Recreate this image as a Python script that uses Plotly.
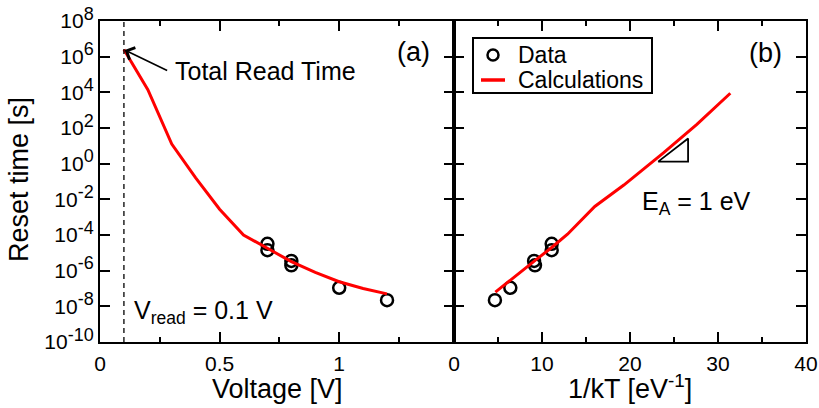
import numpy as np
import plotly.graph_objects as go

# ---------------- data ----------------
# panel (a): reset time vs voltage
volt_calc = [0.1, 0.2, 0.3, 0.4, 0.5, 0.6, 0.7, 0.8, 0.9, 1.0, 1.1, 1.2]
t_calc_a = [2.5e6, 1.4e4, 12.6, 0.16, 2.8e-3, 1.0e-4, 1.8e-5, 3.2e-6, 7.9e-7, 2.4e-7, 1.0e-7, 5.0e-8]
volt_data = [0.7, 0.7, 0.8, 0.8, 1.0, 1.2]
t_data = [3.2e-5, 1.4e-5, 3.5e-6, 2.0e-6, 1.1e-7, 2.2e-8]

# panel (b): reset time vs 1/kT
invkt_data = [11.1, 11.1, 9.1, 9.2, 6.4, 4.65]
invkt_calc = [4.7, 6.4, 9.3, 11.1, 12.9, 16.0, 19.3, 23.8, 27.6, 31.4]
t_calc_b = [6.3e-8, 2.8e-7, 4.0e-6, 2.0e-5, 1.1e-4, 4.0e-3, 6.3e-2, 4.0, 160, 8.9e3]

# slope triangle (E_A = 1 eV) and read-voltage marker
tri_x = [23.2, 26.6, 26.6, 23.2]
tri_y = [1.3, 1.3, 26, 1.3]
V_read = 0.1

y_exps = [-10, -8, -6, -4, -2, 0, 2, 4, 6, 8]
xa_ticks = [0, 0.5, 1]
xa_minor = [0.25, 0.75, 1.25]
xb_ticks = [0, 10, 20, 30, 40]
xb_minor = [5, 15, 25, 35]
legend_names = ["Data", "Calculations"]

# ---------------- layout geometry ----------------
W, H = 819, 408
xa_l, xa_r, xb_r = 100, 454, 806
y_top, y_bot = 21, 342
FONT = "Liberation Sans, Arial, sans-serif"


def px(x):
    return x / W


def py(y):
    return 1 - y / H


fig = go.Figure()

# data circles
for xs, xa, ya in [(volt_data, "x", "y"), (invkt_data, "x2", "y2")]:
    fig.add_trace(go.Scatter(x=xs, y=t_data, mode="markers", name=legend_names[0],
                             marker=dict(symbol="circle-open", size=12, color="black",
                                         line=dict(width=2.5, color="black")),
                             xaxis=xa, yaxis=ya, showlegend=False))
# calculations
for xs, ys, xa, ya in [(volt_calc, t_calc_a, "x", "y"), (invkt_calc, t_calc_b, "x2", "y2")]:
    fig.add_trace(go.Scatter(x=xs, y=ys, mode="lines", name=legend_names[1],
                             line=dict(color="#ff0000", width=3),
                             xaxis=xa, yaxis=ya, showlegend=False))
# slope triangle
fig.add_trace(go.Scatter(x=tri_x, y=tri_y, mode="lines", line=dict(color="black", width=1.8),
                         xaxis="x2", yaxis="y2", showlegend=False, hoverinfo="skip"))

common = dict(showline=True, linewidth=2.2, linecolor="black", mirror="ticks",
              ticks="inside", ticklen=10, tickwidth=2, tickcolor="black",
              showgrid=False, zeroline=False, automargin=False)
xtickfont = dict(family=FONT, size=21, color="black")
ytickfont = dict(family=FONT, size=21, color="black")

yticktext = ["10<sup><span style='font-size:18px'>%d</span></sup>" % e for e in y_exps]
ytickvals = [10.0 ** e for e in y_exps]

fig.update_layout(
    width=W, height=H,
    margin=dict(l=0, r=0, t=0, b=0),
    paper_bgcolor="white", plot_bgcolor="white",
    font=dict(family=FONT, color="black"),
    showlegend=False,
    xaxis=dict(domain=[px(xa_l), px(xa_r)], range=[0, 1.48], tickvals=xa_ticks,
               ticktext=["0", "0.5", "1"], ticklabelstandoff=2, tickfont=xtickfont,
               minor=dict(tickvals=xa_minor, ticks="inside", ticklen=5, tickwidth=2,
                          tickcolor="black"),
               anchor="y", **common),
    xaxis2=dict(domain=[px(xa_r), px(xb_r)], range=[0, 40], tickvals=xb_ticks,
                ticklabelstandoff=2, tickfont=xtickfont,
                minor=dict(tickvals=xb_minor, ticks="inside", ticklen=5, tickwidth=2,
                           tickcolor="black"),
                anchor="y2", **common),
    yaxis=dict(domain=[py(y_bot), py(y_top)], type="log", range=[-10, 8],
               tickvals=ytickvals, ticktext=yticktext, tickfont=ytickfont,
               anchor="x", **common),
    yaxis2=dict(domain=[py(y_bot), py(y_top)], type="log", range=[-10, 8],
                tickvals=ytickvals, showticklabels=False, anchor="x2", matches="y",
                tickfont=ytickfont, **common),
)

# dashed read-voltage line
fig.add_shape(type="line", xref="x", yref="y domain", x0=V_read, x1=V_read, y0=0, y1=1,
              line=dict(color="black", width=1.3, dash="5px,4px"))

# hand-drawn legend box (to match the compact original)
fig.add_shape(type="rect", xref="paper", yref="paper", x0=px(473), x1=px(652),
              y0=py(93), y1=py(38), line=dict(color="black", width=2),
              fillcolor="white", layer="above")
fig.add_shape(type="circle", xref="paper", yref="paper", x0=px(487.5), x1=px(498.5),
              y0=py(60.5), y1=py(49.5), line=dict(color="black", width=2.5), layer="above")
fig.add_shape(type="line", xref="paper", yref="paper", x0=px(481), x1=px(505),
              y0=py(80), y1=py(80), line=dict(color="#ff0000", width=3.5), layer="above")

ann_font = dict(family=FONT, size=25, color="black")
title_font = dict(family=FONT, size=27, color="black")
anns = [
    dict(text="Reset time [s]", xref="paper", yref="paper", x=px(19), y=py(180),
         textangle=-90, showarrow=False, font=title_font,
         xanchor="center", yanchor="middle"),
    dict(text="Voltage [V]", xref="paper", yref="paper", x=px(277), y=py(389),
         showarrow=False, font=title_font, xanchor="center", yanchor="middle"),
    dict(text="1/kT [eV<sup>-1</sup>]", xref="paper", yref="paper", x=px(630), y=py(387),
         showarrow=False, font=title_font, xanchor="center", yanchor="middle"),
    dict(text="(a)", xref="x", yref="y", x=1.39, y=6.28, showarrow=False,
         xanchor="right", yanchor="middle", font=dict(family=FONT, size=27, color="black")),
    dict(text="(b)", xref="x2", yref="y2", x=37.5, y=6.19, showarrow=False,
         xanchor="right", yanchor="middle", font=dict(family=FONT, size=27, color="black")),
    dict(text="Total Read Time", xref="x", yref="y", x=0.307, y=5.17, showarrow=False,
         xanchor="left", yanchor="middle", font=ann_font),
    dict(text="", xref="x", yref="y", x=0.103, y=6.38, axref="x", ayref="y",
         ax=0.287, ay=5.18, showarrow=True, arrowhead=4, arrowsize=1.6, arrowwidth=1.6,
         arrowcolor="black"),
    dict(text="V<sub>read</sub> = 0.1 V", xref="x", yref="y", x=0.133, y=-8.3,
         showarrow=False, xanchor="left", yanchor="middle", font=ann_font),
    dict(text="E<sub>A</sub> = 1 eV", xref="x2", yref="y2", x=21.1, y=-2.2,
         showarrow=False, xanchor="left", yanchor="middle", font=ann_font),
    dict(text=legend_names[0], xref="paper", yref="paper", x=px(516), y=py(55),
         showarrow=False, xanchor="left", yanchor="middle",
         font=dict(family=FONT, size=23, color="black")),
    dict(text=legend_names[1], xref="paper", yref="paper", x=px(516), y=py(80),
         showarrow=False, xanchor="left", yanchor="middle",
         font=dict(family=FONT, size=23, color="black")),
]
fig.update_layout(annotations=anns)

fig.write_html("out.html")
